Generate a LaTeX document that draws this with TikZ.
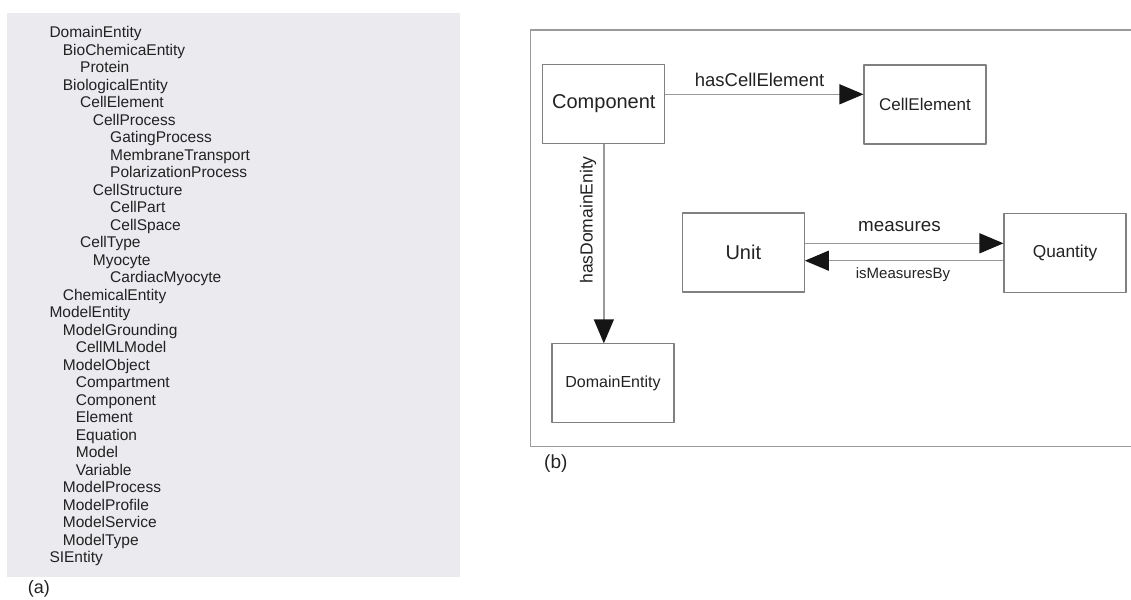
\documentclass[tikz,border=0pt]{standalone}
\usepackage{fontspec}
\setmainfont{Liberation Sans}
\usetikzlibrary{arrows.meta}
\definecolor{panelgray}{HTML}{EAEAEF}
\definecolor{txtgray}{HTML}{222222}
\definecolor{linegray}{HTML}{9A9A9A}
\definecolor{edgegray}{HTML}{808080}
\definecolor{tipblack}{HTML}{151515}
\tikzset{
  entry/.style={anchor=base west, inner sep=0pt, font=\fontsize{15.5}{17.5}\selectfont},
  classbox/.style={draw=edgegray, line width=1.1pt, minimum width=122pt, minimum height=79pt, inner sep=0pt},
  rel/.style={draw=linegray, line width=1.3pt, ->},
}
\begin{document}
\begin{tikzpicture}[x=1pt, y=-1pt, text=txtgray, line join=round, >={Triangle[length=24pt, width=20pt, color=tipblack]}]
\useasboundingbox (0,0) rectangle (1131,599);
% (a) class tree
\fill[panelgray] (7.3,13.3) rectangle (460.3,576.7);
\foreach \x/\t [count=\i] in {49.3/DomainEntity, 62.7/BioChemicaEntity, 80/Protein, 62.7/BiologicalEntity,
  80/CellElement, 92.7/CellProcess, 110/GatingProcess, 110/MembraneTransport, 110/PolarizationProcess,
  92.7/CellStructure, 110/CellPart, 110/CellSpace, 80/CellType, 92.7/Myocyte, 110/CardiacMyocyte,
  62.7/ChemicalEntity, 49.3/ModelEntity, 62.7/ModelGrounding, 75.7/CellMLModel, 62.7/ModelObject,
  75.7/Compartment, 75.7/Component, 75.7/Element, 75.7/Equation, 75.7/Model, 75.7/Variable,
  62.7/ModelProcess, 62.7/ModelProfile, 62.7/ModelService, 62.7/ModelType, 49.3/SIEntity}
  \node[entry] (e\i) at (\x, 37.7+17.5*\i-17.5) {\t};
\node[font=\fontsize{18}{20}\selectfont] (capa) at (38.8,589) {(a)};
% (b) relations
\draw[linegray, line width=1.2pt] (1131,30) -- (530.7,30) -- (530.7,446.7) -- (1131,446.7);
\node[classbox, font=\fontsize{20}{22}\selectfont] (comp) at (603.85,103.8) {Component};
\node[classbox, font=\fontsize{17}{19}\selectfont] (cell) at (925,104.5) {CellElement};
\node[classbox, font=\fontsize{16}{18}\selectfont] (dom) at (613,383.4) {DomainEntity};
\node[classbox, font=\fontsize{20}{22}\selectfont] (unit) at (743.3,252.5) {Unit};
\node[classbox, font=\fontsize{17.3}{19}\selectfont] (qty) at (1065,253.2) {Quantity};
\draw[rel] ([yshift=9.5pt]comp.east) -- ([yshift=9.5pt]comp.east -| cell.west);
\node[font=\fontsize{18.5}{20}\selectfont] (lcell) at (759.6,80) {hasCellElement};
\draw[rel] (comp.south) -- (comp.south |- dom.north);
\node[rotate=90, font=\fontsize{17.5}{19}\selectfont] (ldom) at (588,220) {hasDomainEnity};
\draw[rel] ([yshift=9.2pt]unit.east) -- ([yshift=9.2pt]unit.east -| qty.west);
\draw[rel] ([yshift=-8.2pt]unit.east -| qty.west) -- ([yshift=-8.2pt]unit.east);
\node[font=\fontsize{18.8}{20}\selectfont] (lmeas) at (899.5,226.7) {measures};
\node[font=\fontsize{15}{17}\selectfont] (lisby) at (903,275) {isMeasuresBy};
\node[font=\fontsize{19}{21}\selectfont] (capb) at (555.8,463.3) {(b)};
\end{tikzpicture}
\end{document}
